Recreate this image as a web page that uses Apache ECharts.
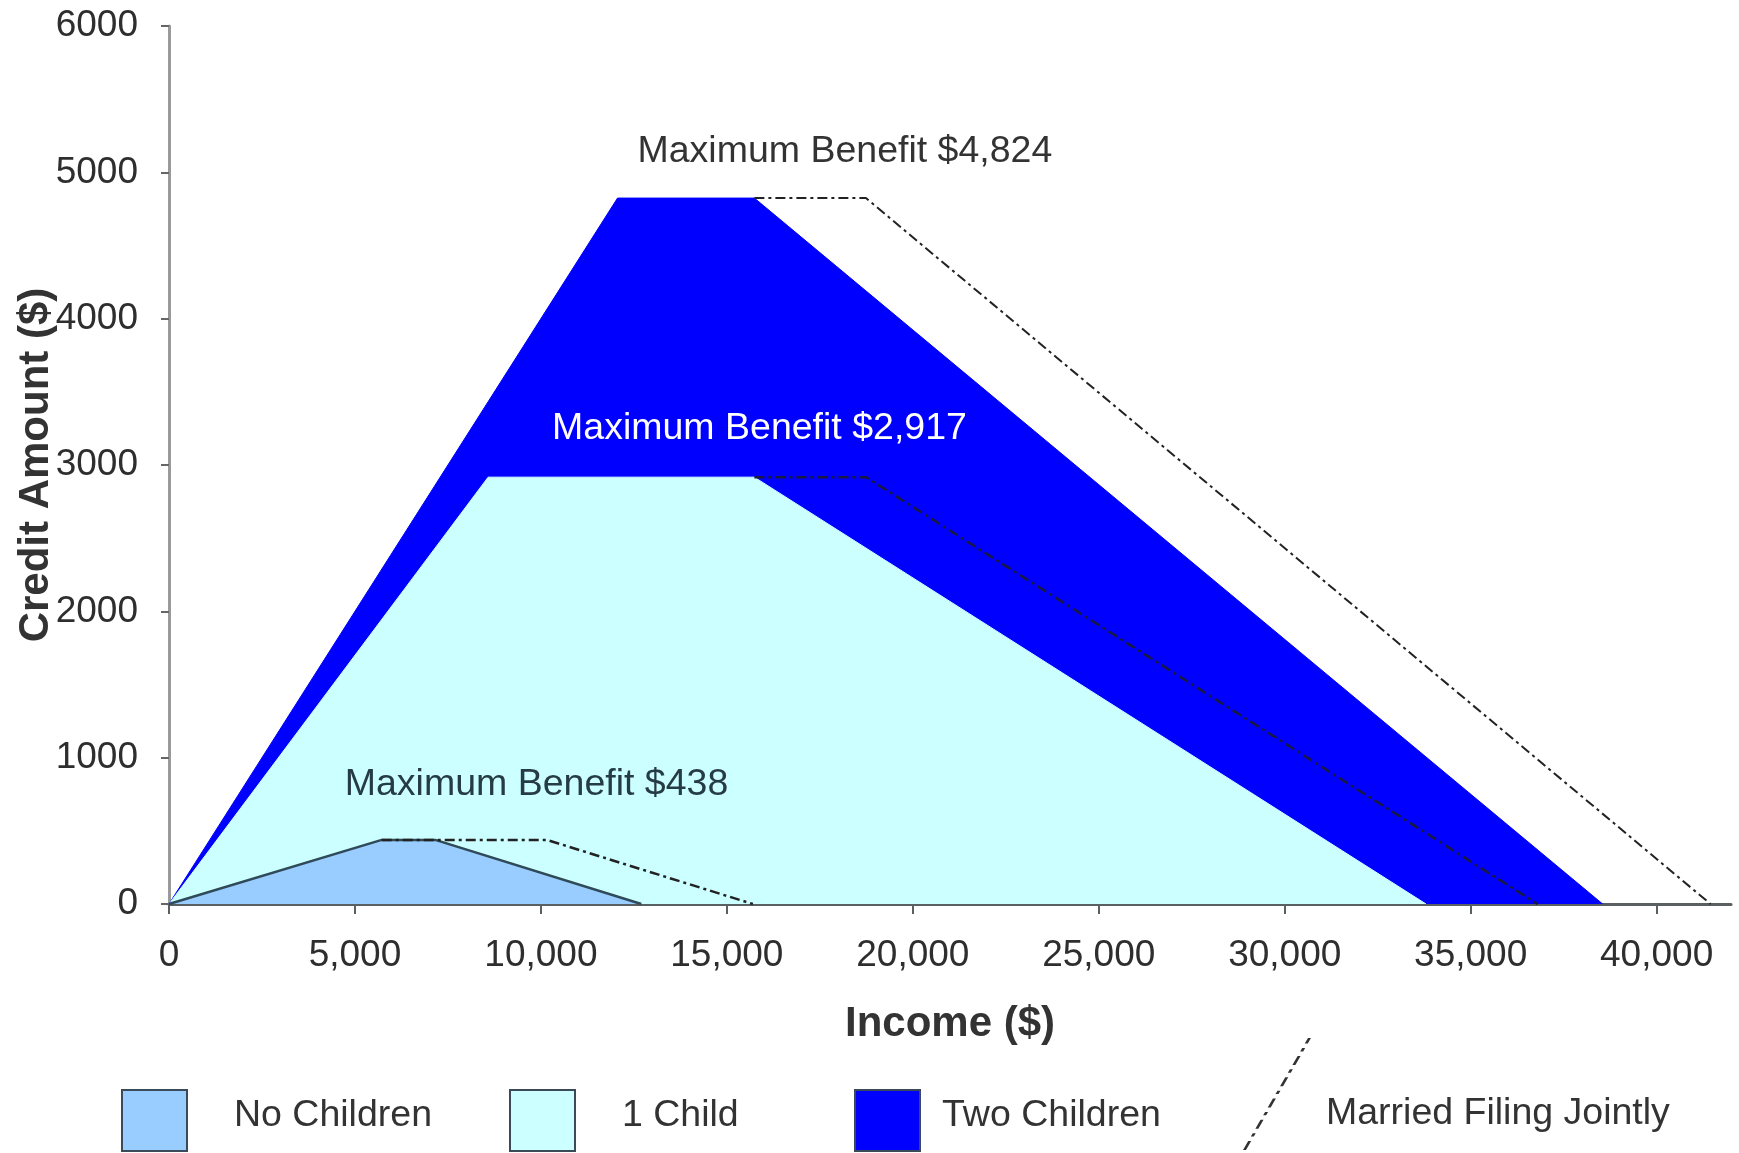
<!DOCTYPE html>
<html>
<head>
<meta charset="utf-8">
<script src="https://cdn.jsdelivr.net/npm/echarts@6/dist/echarts.min.js"></script>
<style>
  html, body { margin: 0; padding: 0; background: #ffffff; }
  #chart { width: 1739px; height: 1153px; }
</style>
</head>
<body>
<div id="chart"></div>
<script>
// ---------- data ----------
const incomeTicks = [0, 5000, 10000, 15000, 20000, 25000, 30000, 35000, 40000];
const creditTicks = [0, 1000, 2000, 3000, 4000, 5000, 6000];

const seriesNames = ['No Children', '1 Child', 'Two Children', 'Married Filing Jointly'];

const noChildIncome  = [0, 5720, 7160, 12700];
const noChildCredit  = [0, 438, 438, 0];
const oneChildIncome = [0, 8580, 15740, 33800];
const oneChildCredit = [0, 2917, 2917, 0];
const twoChildIncome = [0, 12060, 15740, 38550];
const twoChildCredit = [0, 4824, 4824, 0];

const mfjNoChildIncome  = [5720, 10160, 15700];
const mfjNoChildCredit  = [438, 438, 0];
const mfjOneChildIncome = [15740, 18740, 36800];
const mfjOneChildCredit = [2917, 2917, 0];
const mfjTwoChildIncome = [15740, 18740, 41450];
const mfjTwoChildCredit = [4824, 4824, 0];

// ---------- helpers ----------
const zip = (xs, ys) => xs.map((x, i) => [x, ys[i]]);
const fmtMoney = v => v.toLocaleString('en-US');
function peakPoint(xs, ys) {
  const m = Math.max(...ys);
  const i = ys.indexOf(m);
  return { coord: [xs[i], ys[i]], value: m };
}
const FONT = 'Liberation Sans, Arial, Helvetica, sans-serif';

function benefitMark(xs, ys, color, offset) {
  const p = peakPoint(xs, ys);
  return {
    symbol: 'circle',
    symbolSize: 0,
    silent: true,
    data: [{ coord: p.coord, value: p.value }],
    label: {
      show: true,
      position: 'inside',
      align: 'left',
      verticalAlign: 'middle',
      offset: offset,
      color: color,
      fontFamily: FONT,
      fontSize: 37.5,
      formatter: () => 'Maximum Benefit $' + fmtMoney(p.value)
    },
    itemStyle: { color: 'transparent' }
  };
}

// dash-dot diagonal icon for the "Married Filing Jointly" legend entry
function diagonalDashIcon() {
  const w = 65, h = 112, t = 3;
  const segs = [[0, 0.08], [0.12, 0.15], [0.19, 0.27], [0.31, 0.34], [0.38, 0.46], [0.50, 0.53],
                [0.57, 0.65], [0.69, 0.72], [0.76, 0.84], [0.88, 0.91], [0.95, 1.0]];
  let d = '';
  segs.forEach(([a, b]) => {
    const x0 = a * w, y0 = h - a * h, x1 = b * w, y1 = h - b * h;
    d += `M${x0.toFixed(2)},${y0.toFixed(2)} L${(x0 + t).toFixed(2)},${y0.toFixed(2)} ` +
         `L${(x1 + t).toFixed(2)},${y1.toFixed(2)} L${x1.toFixed(2)},${y1.toFixed(2)} Z `;
  });
  return 'path://' + d;
}

// ---------- chart ----------
const chart = echarts.init(document.getElementById('chart'), null, { renderer: 'canvas' });

const swatchLegend = (name, left, textGap) => ({
  data: [{ name: name, icon: 'rect' }],
  left: left,
  top: 1089,
  padding: 0,
  itemWidth: 65,
  itemHeight: 61,
  selectedMode: false,
  itemStyle: { borderColor: '#3a4a58', borderWidth: 2 },
  formatter: n => '{a|' + n + '}\n{b|}',
  textStyle: {
    fontFamily: FONT, fontSize: 37.5, color: '#333', padding: [0, 0, 0, textGap],
    rich: {
      a: { fontFamily: FONT, fontSize: 37.5, lineHeight: 42, color: '#333' },
      b: { fontSize: 1, lineHeight: 10 }
    }
  }
});

const option = {
  animation: false,
  backgroundColor: '#ffffff',
  grid: { left: 169, right: 8, top: 26, bottom: 249, containLabel: false, outerBoundsMode: 'none' },
  legend: [
    swatchLegend(seriesNames[0], 121, 42),
    swatchLegend(seriesNames[1], 509, 42),
    swatchLegend(seriesNames[2], 854, 17),
    {
      data: [{ name: seriesNames[3], icon: diagonalDashIcon(), itemStyle: { color: '#333', borderWidth: 0 } }],
      left: 1243,
      top: 1038,
      padding: 0,
      itemWidth: 68,
      itemHeight: 112,
      selectedMode: false,
      formatter: name => '\n' + name,
      textStyle: { fontFamily: FONT, fontSize: 37.5, lineHeight: 40, color: '#333', padding: [0, 0, 0, 10] }
    }
  ],
  xAxis: {
    type: 'value',
    min: 0,
    max: 42000,
    interval: 5000,
    name: 'Income ($)',
    nameLocation: 'middle',
    nameGap: 99,
    nameTextStyle: { fontFamily: FONT, fontSize: 42, fontWeight: 'bold', color: '#333' },
    splitLine: { show: false },
    axisLine: { show: true, lineStyle: { color: '#5a5f62', width: 3 } },
    axisTick: { show: true, length: 10, lineStyle: { color: '#5a5f62', width: 2 }, customValues: incomeTicks },
    axisLabel: {
      customValues: incomeTicks,
      fontFamily: FONT, fontSize: 37, color: '#2e2e2e', margin: 33,
      formatter: v => fmtMoney(v)
    }
  },
  yAxis: {
    type: 'value',
    min: 0,
    max: 6000,
    interval: 1000,
    name: 'Credit Amount ($)',
    nameLocation: 'middle',
    nameGap: 112,
    nameMoveOverlap: false,
    nameTextStyle: { fontFamily: FONT, fontSize: 42, fontWeight: 'bold', color: '#333' },
    splitLine: { show: false },
    axisLine: { show: true, lineStyle: { color: '#9a9a9a', width: 3 } },
    axisTick: { show: true, length: 8, lineStyle: { color: '#666', width: 2 } },
    axisLabel: {
      customValues: creditTicks,
      fontFamily: FONT, fontSize: 37, color: '#2e2e2e', margin: 31,
      formatter: v => String(v)
    }
  },
  series: [
    {
      name: seriesNames[2],
      type: 'line',
      color: '#0000ff',
      data: zip(twoChildIncome, twoChildCredit),
      symbol: 'none',
      lineStyle: { color: '#0000ff', width: 1 },
      areaStyle: { color: '#0000ff', opacity: 1 },
      markPoint: benefitMark(twoChildIncome, twoChildCredit, '#333', [20, -46]),
      z: 2
    },
    {
      name: seriesNames[1],
      type: 'line',
      color: '#ccffff',
      data: zip(oneChildIncome, oneChildCredit),
      symbol: 'none',
      lineStyle: { color: '#ccffff', width: 1 },
      areaStyle: { color: '#ccffff', opacity: 1 },
      markPoint: benefitMark(oneChildIncome, oneChildCredit, '#ffffff', [64, -48]),
      z: 2
    },
    {
      name: seriesNames[0],
      type: 'line',
      color: '#99ccff',
      data: zip(noChildIncome, noChildCredit),
      symbol: 'none',
      lineStyle: { color: '#2f4a58', width: 2.5 },
      areaStyle: { color: '#99ccff', opacity: 1 },
      markPoint: benefitMark(noChildIncome, noChildCredit, '#263c44', [-37, -55]),
      z: 2
    },
    {
      name: seriesNames[3],
      type: 'line',
      color: '#222',
      data: zip(mfjNoChildIncome, mfjNoChildCredit),
      symbol: 'none',
      lineStyle: { color: '#222', width: 2.5, type: [10, 4, 3, 4] },
      z: 3
    },
    {
      name: seriesNames[3],
      type: 'line',
      color: '#222',
      data: zip(mfjOneChildIncome, mfjOneChildCredit),
      symbol: 'none',
      lineStyle: { color: '#1a1a40', width: 2.5, type: [10, 4, 3, 4] },
      z: 3
    },
    {
      name: seriesNames[3],
      type: 'line',
      color: '#222',
      data: zip(mfjTwoChildIncome, mfjTwoChildCredit),
      symbol: 'none',
      lineStyle: { color: '#222', width: 2, type: [10, 4, 3, 4] },
      z: 3
    }
  ]
};

chart.setOption(option);
</script>
</body>
</html>
